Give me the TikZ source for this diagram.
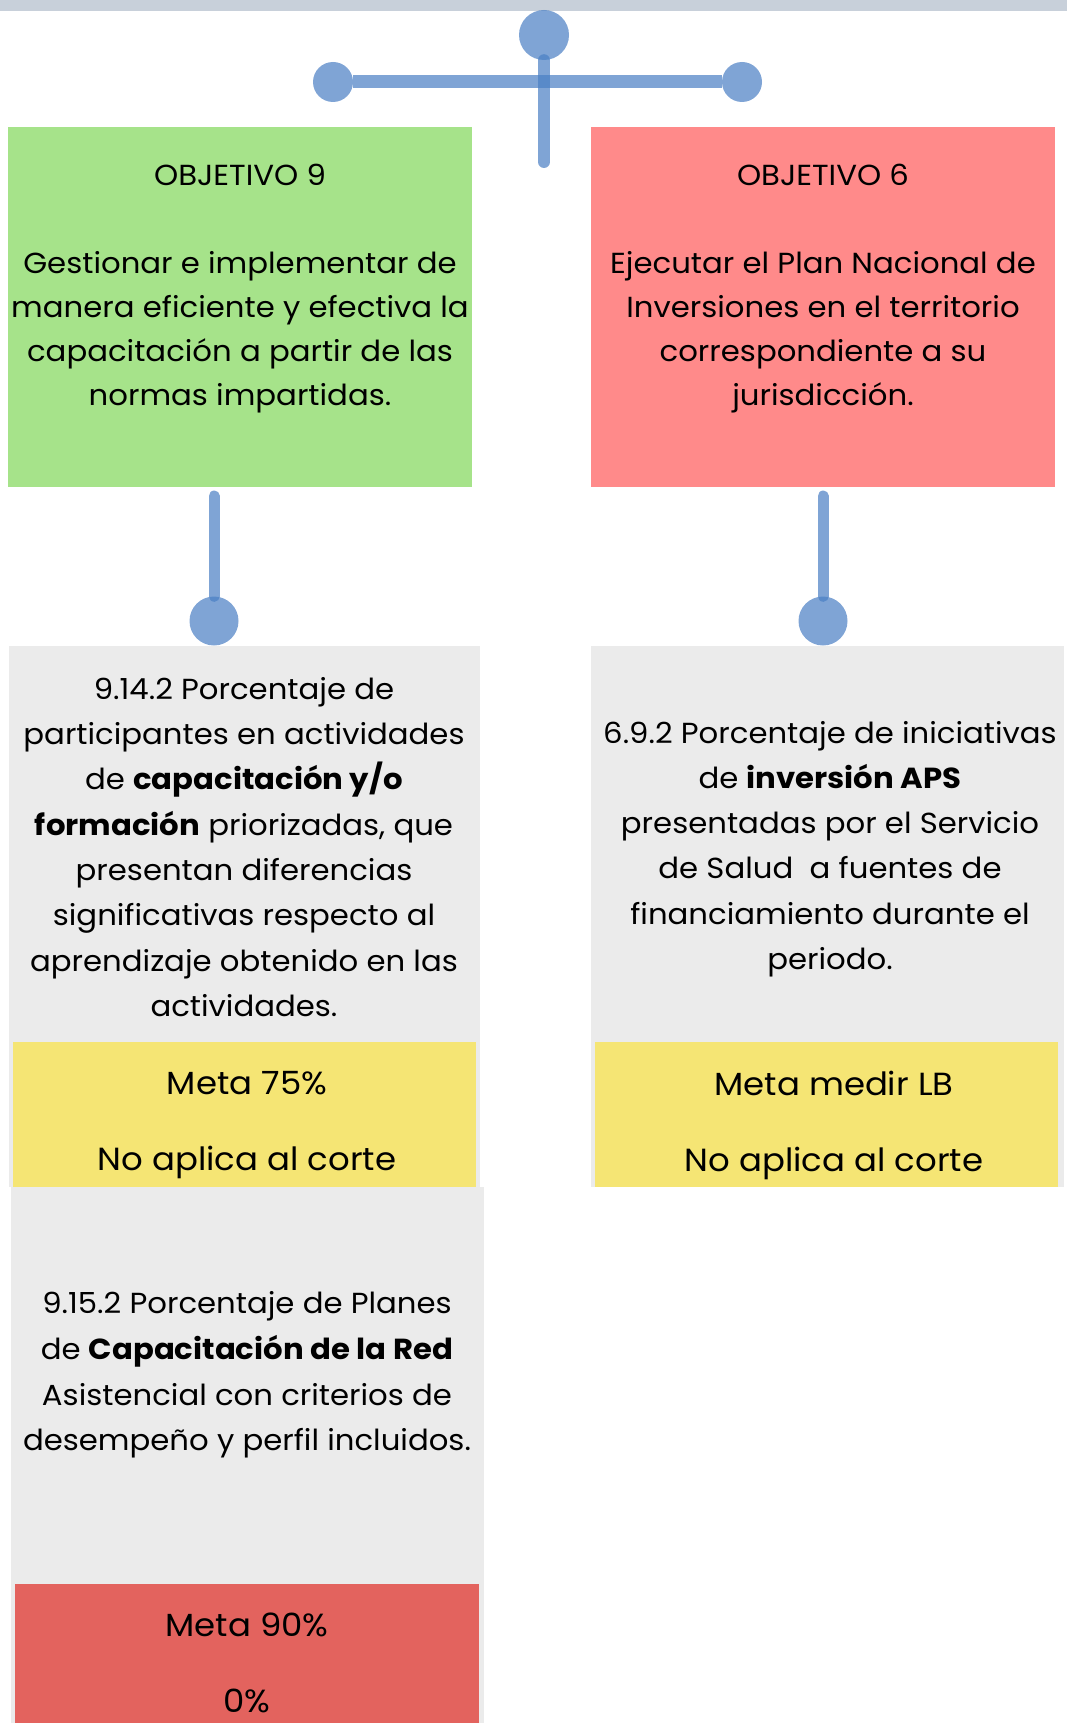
\documentclass[tikz,border=0pt]{standalone}
\usepackage{fontspec}
\setmainfont{Poppins}[FakeStretch=1.06]
\usetikzlibrary{positioning}
\definecolor{bargray}{HTML}{C8D0DA}
\definecolor{objgreen}{HTML}{A6E38A}
\definecolor{objred}{HTML}{FF8A8A}
\definecolor{indgray}{HTML}{EBEBEB}
\definecolor{metayellow}{HTML}{F5E574}
\definecolor{metared}{HTML}{E3635E}
\definecolor{linkblue}{RGB}{74,127,196}
\tikzset{box/.style={inner sep=0pt, outer sep=0pt, anchor=north west}}
\tikzset{txt/.style={align=center, inner sep=0pt, font=\fontsize{29}{44}\selectfont}}
\tikzset{metatxt/.style={align=center, inner sep=0pt, font=\fontsize{32}{76}\selectfont}}
\tikzset{dot/.style={circle, fill=linkblue, fill opacity=0.71, inner sep=0pt, minimum size=49pt}}
\tikzset{link/.style={draw=linkblue, draw opacity=0.71, line width=11pt, line cap=round}}

\begin{document}
\begin{tikzpicture}[x=1pt, y=-1pt]
    \useasboundingbox (0, 0) rectangle (1067, 1723);
    \fill[bargray] (0, 0) rectangle (1067, 11);

    % boxes
    \node[box, fill=objgreen, minimum width=464pt, minimum height=360pt] (obj9) at (8, 127) {};
    \node[box, fill=objred, minimum width=464pt, minimum height=360pt] (obj6) at (591, 127) {};
    \node[box, fill=indgray, minimum width=471pt, minimum height=541pt] (ind9) at (9, 646) {};
    \node[box, fill=indgray, minimum width=473pt, minimum height=541pt] (ind6) at (591, 646) {};
    \node[box, fill=indgray, minimum width=473pt, minimum height=536pt] (ind9b) at (11, 1187) {};
    \node[box, fill=metayellow, minimum width=463pt, minimum height=145pt] (meta9) at (13, 1042) {};
    \node[box, fill=metayellow, minimum width=463pt, minimum height=145pt] (meta6) at (595, 1042) {};
    \node[box, fill=metared, minimum width=464pt, minimum height=139pt] (meta9b) at (15, 1584) {};

    % texts
    \node[txt] (obj9text) at (240, 289) {OBJETIVO 9\\[44pt]Gestionar e implementar de\\
        manera eficiente y efectiva la\\capacitación a partir de las\\normas impartidas.};
    \node[txt] (obj6text) at (823, 289) {OBJETIVO 6\\[44pt]Ejecutar el Plan Nacional de\\
        Inversiones en el territorio\\correspondiente a su\\jurisdicción.};
    \node[txt, font=\fontsize{29}{45.3}\selectfont] (ind9text) at (244, 847) {9.14.2 Porcentaje de\\
        participantes en actividades\\de \textbf{capacitación y/o}\\\textbf{formación} priorizadas, que\\
        presentan diferencias\\significativas respecto al\\aprendizaje obtenido en las\\actividades.};
    \node[txt, font=\fontsize{29}{45.3}\selectfont] (ind6text) at (830, 849) {6.9.2 Porcentaje de iniciativas\\
        de \textbf{inversión APS}\\presentadas por el Servicio\\de Salud~ a fuentes de\\
        financiamiento durante el\\periodo.};
    \node[txt, font=\fontsize{29}{45.7}\selectfont] (ind9btext) at (247, 1375) {9.15.2 Porcentaje de Planes\\
        de \textbf{Capacitación de la Red}\\Asistencial con criterios de\\desempeño y perfil incluidos.};
    \node[metatxt] (meta9text) at (247, 1125) {Meta 75\%\\No aplica al corte};
    \node[metatxt] (meta6text) at (834, 1125) {Meta medir LB\\No aplica al corte};
    \node[metatxt] (meta9btext) at (247, 1663) {Meta 90\%\\0\%};

    % connectors
    \node[dot, minimum size=50pt] (top) at (544, 35) {};
    \node[dot, minimum size=40pt] (left) at (333, 82) {};
    \node[dot, minimum size=40pt] (right) at (742, 82) {};
    \coordinate (stem) at (544, 162);
    \draw[link, line width=13pt, line cap=butt] (left) -- (right);
    \draw[link, line width=12pt, line cap=round] (top) -- (stem);

    \node[dot] (d9) at (214, 621) {};
    \node[dot] (d6) at (823, 621) {};
    \draw[link, shorten <=9pt] (obj9.south -| d9) -- (d9);
    \draw[link, shorten <=9pt] (obj6.south -| d6) -- (d6);

    % \draw[help lines, step=100] (0,0) grid (1067,1723);
\end{tikzpicture}
\end{document}
